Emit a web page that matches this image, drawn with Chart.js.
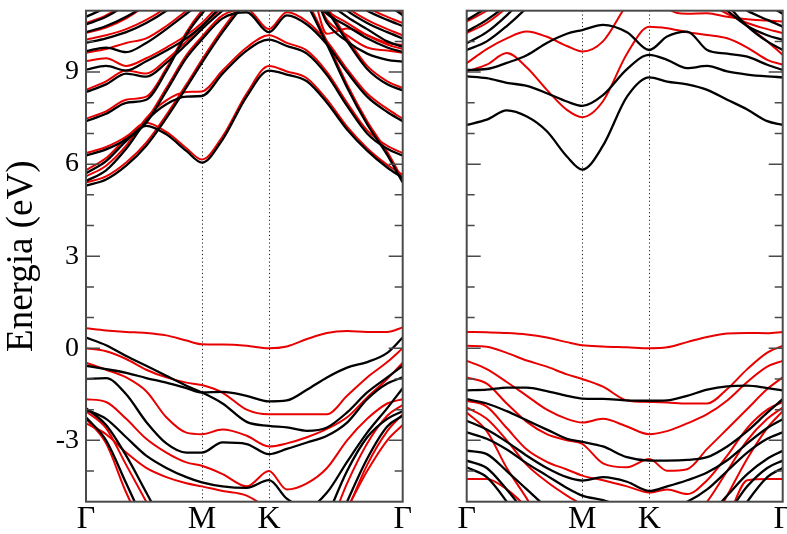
<!DOCTYPE html>
<html><head><meta charset="utf-8">
<script src="https://cdn.jsdelivr.net/npm/chart.js@4"></script>
<style>
html,body{margin:0;padding:0;background:#fff;overflow:hidden;}
#wrap{position:relative;width:787px;height:534px;background:#fff;}
#c1{position:absolute;left:0;top:0;}
#c2{position:absolute;left:420px;top:0;}
#probe{position:absolute;left:-1000px;top:0;font-family:'Liberation Serif';font-size:20px;}
</style></head><body>
<div id="probe">ΓMK Energia (eV) 0123456789-</div>
<div id="wrap"><canvas id="c1" width="420" height="534"></canvas><canvas id="c2" width="367" height="534"></canvas></div>
<script>
// k-path sample positions (Γ=0, M=0.577, K=0.911, Γ=1.577)
const kPath = [0, 0.1, 0.2, 0.3, 0.4, 0.5, 0.577, 0.68, 0.8, 0.911, 1.0, 1.1, 1.2, 1.3, 1.4, 1.5, 1.577];
const kLabelPos = [0, 0.577, 0.911, 1.577];
const kLabels = ['Γ', 'M', 'K', 'Γ'];
const yMajorTicks = [-3, 0, 3, 6, 9];
const yMinorTicks = [-4, -2, -1, 1, 2, 4, 5, 7, 8, 10];

// Left panel, black bands (eV)
const leftBlack = [
  [0.35, 0.1, -0.25, -0.57, -0.9, -1.22, -1.44, -1.8, -2.4, -2.53, -2.58, -2.69, -2.58, -2.09, -1.44, -0.95, -0.57],
  [-0.57, -0.68, -0.8, -0.97, -1.12, -1.3, -1.44, -1.42, -1.55, -1.73, -1.7, -1.35, -0.95, -0.63, -0.45, -0.15, 0.35],
  [-1.0, -0.97, -1.5, -2.4, -3.1, -3.4, -3.4, -3.07, -3.12, -3.45, -3.28, -3.07, -2.85, -2.42, -1.66, -1.15, -0.95],
  [-2.0, -2.3, -2.9, -3.5, -3.9, -4.2, -4.37, -4.5, -4.55, -4.3, -4.9, -5.2, -4.7, -3.7, -2.75, -1.95, -1.3],
  [-2.25, -3.0, -4.4, -5.8, -7, -7, -7, -7, -7, -7, -7, -7, -6.5, -5.0, -3.6, -2.55, -2.2],
  [-1.95, -2.5, -3.5, -4.7, -5.9, -7, -7, -7, -7, -7, -7, -7, -5.5, -4.0, -2.9, -2.3, -2.05],
  [5.3, 5.5, 5.95, 6.6, 7.5, 8.5, 9.3, 10.3, 11.3, 12, 12, 11.2, 9.9, 8.5, 7.3, 6.3, 5.4],
  [5.7, 6.1, 6.75, 7.25, 6.97, 6.43, 6.05, 6.8, 8.2, 9.05, 8.92, 8.7, 8.0, 7.13, 6.44, 5.89, 5.55],
  [5.45, 5.8, 6.5, 7.4, 7.95, 8.2, 8.22, 8.95, 9.7, 10.06, 9.85, 9.6, 8.9, 7.9, 7.0, 6.5, 6.28],
  [6.28, 6.48, 6.81, 7.35, 8.38, 9.46, 10.06, 10.75, 10.95, 10.3, 10.85, 10.55, 9.9, 9.0, 8.2, 7.7, 7.4],
  [7.4, 7.64, 8.0, 8.1, 9.03, 10.22, 10.9, 11.6, 12, 12, 12, 11.7, 11.0, 10.0, 9.1, 8.6, 8.4],
  [8.35, 8.6, 8.95, 8.85, 9.3, 9.9, 10.4, 11.0, 11.6, 12, 12, 12, 10.6, 10.0, 9.6, 9.4, 9.34],
  [9.08, 9.2, 9.05, 9.35, 9.7, 10.1, 10.5, 11.2, 12, 12, 12, 11.6, 10.9, 10.5, 10.1, 9.8, 9.65],
  [9.68, 9.8, 9.65, 9.95, 10.4, 10.9, 11.3, 12, 12, 12, 12, 12, 11.3, 10.8, 10.4, 10.0, 9.83],
  [9.95, 10.1, 10.3, 10.6, 11.0, 11.5, 12, 12, 12, 12, 12, 12, 11.6, 11.0, 10.6, 10.3, 10.1],
  [10.3, 10.5, 10.8, 11.2, 11.8, 12, 12, 12, 12, 12, 12, 12, 12, 11.4, 11.0, 10.7, 10.5],
  [10.55, 10.8, 11.2, 11.7, 12, 12, 12, 12, 12, 12, 12, 12, 12, 12, 11.6, 11.2, 10.85],
  [10.8, 11.1, 11.5, 12, 12, 12, 12, 12, 12, 12, 12, 12, 12, 12, 12, 11.5, 11.1]
];
// Left panel, red bands (eV)
const leftRed = [
  [0.65, 0.58, 0.53, 0.5, 0.42, 0.25, 0.13, 0.12, 0.08, 0.0, 0.06, 0.3, 0.5, 0.56, 0.53, 0.53, 0.68],
  [0.0, -0.1, -0.35, -0.7, -0.95, -1.12, -1.2, -1.45, -2.0, -2.15, -2.15, -2.15, -2.15, -1.55, -0.95, -0.45, 0.0],
  [-0.47, -0.7, -0.95, -1.4, -2.25, -2.75, -2.8, -2.65, -2.85, -3.2, -3.1, -2.9, -2.63, -2.25, -1.6, -1.0, -0.47],
  [-1.66, -1.75, -2.3, -2.95, -3.4, -3.72, -3.83, -4.1, -4.5, -4.0, -4.6, -4.4, -3.9, -3.0, -2.3, -1.8, -1.66],
  [-2.05, -2.6, -3.8, -5.0, -6.2, -7, -7, -7, -7, -7, -7, -7, -6.0, -4.4, -3.1, -2.2, -1.85],
  [-2.3, -3.1, -4.7, -6.0, -7, -7, -7, -7, -7, -7, -7, -7, -6.8, -5.3, -3.8, -2.7, -2.15],
  [-2.45, -2.8, -3.4, -3.9, -4.2, -4.4, -4.5, -4.65, -4.8, -5.3, -6, -6.5, -6.2, -5.2, -4.0, -3.0, -2.5],
  [5.4, 5.6, 6.05, 6.7, 7.6, 8.6, 9.4, 10.4, 11.4, 12, 12, 11.3, 10.0, 8.6, 7.4, 6.4, 5.5],
  [5.8, 6.2, 6.85, 7.35, 7.05, 6.52, 6.15, 6.9, 8.3, 9.2, 9.02, 8.8, 8.1, 7.22, 6.52, 5.98, 5.65],
  [5.6, 5.95, 6.6, 7.5, 8.08, 8.35, 8.37, 9.05, 9.8, 10.2, 9.95, 9.7, 9.0, 8.0, 7.1, 6.6, 6.36],
  [6.36, 6.56, 6.9, 7.45, 8.48, 9.55, 10.15, 10.85, 11.05, 10.4, 10.95, 10.65, 10.0, 9.1, 8.3, 7.8, 7.48],
  [7.48, 7.72, 8.1, 8.2, 9.12, 10.3, 11.0, 11.7, 12, 12, 12, 11.8, 11.1, 10.1, 9.2, 8.7, 8.48],
  [8.42, 8.7, 9.05, 8.95, 9.4, 10.0, 10.5, 11.1, 11.7, 12, 12, 12, 10.7, 10.2, 9.8, 9.7, 9.63],
  [9.36, 9.45, 9.2, 9.45, 9.8, 10.2, 10.6, 11.3, 12, 12, 12, 11.7, 11.0, 10.6, 10.2, 9.9, 9.75],
  [9.63, 9.75, 9.95, 10.1, 10.5, 11.0, 11.4, 12, 12, 12, 12, 12, 10.25, 10.42, 10.2, 9.95, 9.88],
  [10.06, 10.2, 10.4, 10.7, 11.1, 11.6, 12, 12, 12, 12, 12, 12, 11.7, 11.1, 10.7, 10.4, 10.2],
  [10.28, 10.45, 10.75, 11.2, 11.8, 12, 12, 12, 12, 12, 12, 12, 12, 11.5, 11.1, 10.8, 10.6],
  [10.6, 10.85, 11.25, 11.75, 12, 12, 12, 12, 12, 12, 12, 12, 12, 12, 11.6, 11.25, 10.9]
];
// Right panel, black bands (eV)
const rightBlack = [
  [-1.37, -1.35, -1.28, -1.28, -1.4, -1.55, -1.64, -1.65, -1.7, -1.71, -1.7, -1.55, -1.35, -1.24, -1.22, -1.3, -1.37],
  [-1.66, -1.8, -2.05, -2.35, -2.65, -2.95, -3.05, -3.2, -3.55, -3.66, -3.66, -3.64, -3.55, -3.2, -2.7, -2.1, -1.66],
  [-2.36, -2.65, -3.05, -3.5, -3.9, -4.2, -4.31, -4.2, -4.35, -4.65, -4.5, -4.3, -4.05, -3.65, -3.1, -2.6, -2.31],
  [-2.74, -2.95, -3.3, -3.75, -4.15, -4.55, -4.8, -4.95, -5.2, -5.3, -5.2, -5.0, -4.6, -4.0, -3.4, -2.95, -2.74],
  [-3.34, -3.45, -4.0, -4.6, -5.2, -5.8, -6, -6, -6, -6, -6, -6, -5.5, -4.8, -4.1, -3.6, -3.34],
  [-3.66, -3.9, -4.6, -5.4, -6, -6, -6, -6, -6, -6, -6, -6, -6, -5.4, -4.5, -3.9, -3.66],
  [-3.88, -4.2, -5.0, -6, -6, -6, -6, -6, -6, -6, -6, -6, -6, -6, -5.0, -4.2, -3.9],
  [7.28, 7.45, 7.75, 7.55, 7.07, 6.25, 5.82, 6.6, 8.2, 8.83, 8.69, 8.6, 8.42, 8.1, 7.78, 7.4, 7.28],
  [8.86, 8.8, 8.65, 8.55, 8.31, 8.04, 7.9, 8.25, 9.1, 9.56, 9.4, 9.13, 9.2, 9.02, 8.92, 8.86, 8.83],
  [9.07, 9.1, 9.3, 9.55, 9.95, 10.25, 10.37, 10.54, 10.3, 9.72, 10.16, 10.32, 9.72, 9.6, 9.5, 9.24, 9.07],
  [9.72, 10.0, 10.5, 11.1, 11.8, 12, 12, 12, 12, 12, 12, 12, 12, 11.2, 10.5, 10.0, 9.72],
  [9.94, 10.3, 10.85, 11.5, 12, 12, 12, 12, 12, 12, 12, 12, 11.6, 11.0, 10.5, 10.2, 10.05],
  [10.32, 10.7, 11.2, 11.9, 12, 12, 12, 12, 12, 12, 12, 12, 12, 11.4, 11.0, 10.7, 10.48],
  [10.7, 11.1, 11.6, 12, 12, 12, 12, 12, 12, 12, 12, 12, 12, 12, 11.6, 11.2, 10.9]
];
// Right panel, red bands (eV)
const rightRed = [
  [0.53, 0.52, 0.5, 0.45, 0.35, 0.2, 0.1, 0.06, 0.03, 0.0, 0.03, 0.2, 0.37, 0.48, 0.5, 0.49, 0.53],
  [0.08, 0.05, -0.15, -0.4, -0.6, -0.85, -1.0, -1.25, -1.7, -1.75, -1.77, -1.8, -1.8, -1.33, -0.68, -0.14, 0.08],
  [-0.41, -0.68, -1.1, -1.55, -2.0, -2.3, -2.42, -2.3, -2.55, -2.8, -2.7, -2.45, -2.15, -1.7, -1.1, -0.6, -0.41],
  [-0.95, -1.15, -1.8, -2.4, -2.8, -3.0, -3.12, -3.75, -3.88, -3.61, -3.99, -3.94, -3.28, -2.63, -1.98, -1.33, -0.95],
  [-1.71, -1.9, -2.6, -3.3, -3.7, -3.95, -4.15, -4.3, -4.5, -4.7, -4.6, -4.75, -4.3, -3.5, -2.6, -2.0, -1.75],
  [-1.93, -2.3, -3.0, -3.8, -4.35, -4.8, -5.1, -5.5, -6, -6, -6, -5.7, -5.0, -4.0, -3.0, -2.3, -1.93],
  [-2.09, -2.7, -3.9, -4.9, -6, -6.5, -7, -7, -7, -7, -7, -7, -6, -4.8, -3.6, -2.6, -2.05],
  [-4.26, -4.26, -4.6, -5.2, -6, -6, -6, -6, -6, -6, -6, -6, -6, -5.5, -4.3, -4.26, -4.26],
  [9.02, 9.24, 9.62, 9.15, 8.42, 7.77, 7.53, 8.05, 9.6, 10.48, 10.43, 10.3, 10.21, 10.1, 9.8, 9.4, 9.24],
  [9.29, 9.75, 10.1, 10.32, 10.15, 9.85, 9.67, 10.0, 11.2, 12, 12, 12, 11.5, 11.0, 10.5, 10.0, 9.56],
  [10.27, 10.6, 11.1, 11.7, 12, 12, 12, 12, 12, 12, 12, 12, 11.3, 10.9, 10.6, 10.4, 10.27],
  [10.65, 11.0, 11.5, 12, 12, 12, 12, 12, 12, 12, 11.1, 10.9, 10.92, 10.8, 10.72, 10.68, 10.65],
  [11.0, 11.3, 11.8, 12, 12, 12, 12, 12, 12, 12, 12, 12, 12, 12, 11.6, 11.3, 11.0]
];

const BLACK = '#000000';
const RED = 'rgb(232,0,0)';
const SERIF = '"Liberation Serif", "Times New Roman", serif';

function bandSets(bands, color, width) {
  return bands.map(b => ({
    data: b.map((e, i) => ({x: kPath[i], y: e})),
    borderColor: color, borderWidth: width, pointRadius: 0,
    tension: 0.4, cubicInterpolationMode: 'monotone', fill: false
  }));
}

const framePlugin = {
  id: 'frame',
  beforeDatasetsDraw(chart) {
    const {ctx, chartArea: a, scales: {x}} = chart;
    ctx.save();
    ctx.strokeStyle = '#222'; ctx.lineWidth = 1; ctx.setLineDash([1.2, 2.6]);
    [kLabelPos[1], kLabelPos[2]].forEach(v => {
      const px = Math.round(x.getPixelForValue(v)) + 0.5;
      ctx.beginPath(); ctx.moveTo(px, a.top); ctx.lineTo(px, a.bottom); ctx.stroke();
    });
    ctx.restore();
  },
  afterDraw(chart) {
    const {ctx, chartArea: a, scales: {y}} = chart;
    ctx.save();
    ctx.strokeStyle = '#4a4a4a'; ctx.lineWidth = 1.5;
    const tick = (v, len) => {
      const py = y.getPixelForValue(v);
      ctx.beginPath();
      ctx.moveTo(a.left, py); ctx.lineTo(a.left + len, py);
      ctx.moveTo(a.right, py); ctx.lineTo(a.right - len, py);
      ctx.stroke();
    };
    yMajorTicks.forEach(v => tick(v, 14));
    yMinorTicks.forEach(v => tick(v, 8));
    ctx.lineWidth = 2;
    ctx.strokeRect(a.left, a.top, a.right - a.left, a.bottom - a.top);
    ctx.restore();
  }
};

function makeOptions(showLabels, yWidth, rightPad) {
  return {
    responsive: false, animation: false, devicePixelRatio: 1,
    layout: {padding: {left: 0, right: rightPad, top: 10.7, bottom: 0}},
    plugins: {legend: {display: false}, tooltip: {enabled: false}},
    scales: {
      x: {
        type: 'linear', min: 0, max: 1.577,
        grid: {display: false, drawTicks: false}, border: {display: false},
        afterBuildTicks: s => { s.ticks = kLabelPos.map(v => ({value: v})); },
        afterFit: s => { s.height = 32.3; s.paddingLeft = 0; s.paddingRight = 0; },
        ticks: {autoSkip: false, maxRotation: 0, minRotation: 0, padding: 0, color: '#000',
          font: {family: SERIF, size: 32, lineHeight: 1.1},
          callback: (v, i) => kLabels[i]}
      },
      y: {
        type: 'linear', min: -5, max: 11,
        grid: {display: false, drawTicks: false}, border: {display: false},
        afterBuildTicks: s => { s.ticks = yMajorTicks.map(v => ({value: v})); },
        afterFit: s => { s.width = yWidth; s.paddingTop = 0; s.paddingBottom = 0; },
        ticks: {display: showLabels, padding: 7, color: '#000', font: {family: SERIF, size: 28}},
        title: {display: showLabels, text: 'Energia (eV)', color: '#000',
          font: {family: SERIF, size: 37}, padding: {top: 0, bottom: 0}}
      }
    }
  };
}

function build() {
  new Chart(document.getElementById('c1'), {
    type: 'line',
    data: {datasets: [...bandSets(leftBlack, BLACK, 2.3), ...bandSets(leftRed, RED, 2)]},
    options: makeOptions(true, 86, 17.3),
    plugins: [framePlugin]
  });
  new Chart(document.getElementById('c2'), {
    type: 'line',
    data: {datasets: [...bandSets(rightBlack, BLACK, 2.3), ...bandSets(rightRed, RED, 2)]},
    options: makeOptions(false, 46.7, 4.3),
    plugins: [framePlugin]
  });
}
if (document.fonts && document.fonts.load) {
  Promise.all([document.fonts.load('37px "Liberation Serif"', 'ΓMK Energia'), document.fonts.ready])
    .then(build, build);
} else { build(); }
</script>
</body></html>
